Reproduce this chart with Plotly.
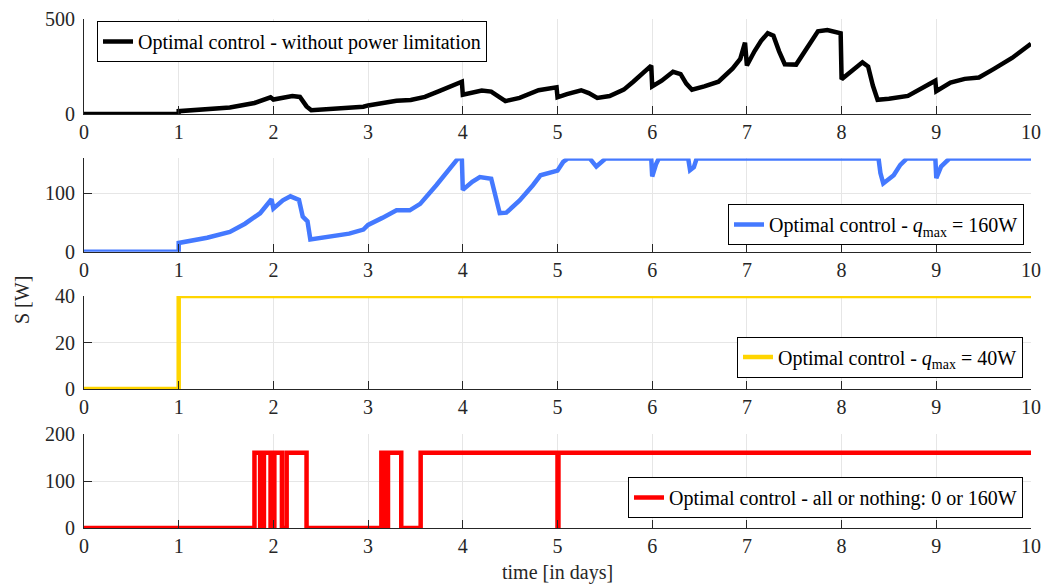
import plotly.graph_objects as go

# ---- data ----
t_black = [0, 1.0, 1.0, 1.3, 1.54, 1.8, 1.97, 2.0, 2.1, 2.2, 2.28, 2.35, 2.4, 2.7, 2.95, 3.0,
           3.15, 3.3, 3.45, 3.6, 3.75, 3.9, 3.99, 4.0, 4.1, 4.2, 4.3, 4.38, 4.45, 4.6, 4.8, 4.99,
           5.0, 5.1, 5.25, 5.33, 5.42, 5.55, 5.7, 5.8, 5.9, 5.99, 6.0, 6.1, 6.22, 6.3, 6.36, 6.42,
           6.55, 6.7, 6.85, 6.93, 6.98, 7.0, 7.08, 7.15, 7.22, 7.28, 7.34, 7.4, 7.52, 7.6, 7.68,
           7.75, 7.85, 7.95, 7.99, 8.0, 8.12, 8.22, 8.28, 8.33, 8.38, 8.5, 8.7, 8.9, 8.99, 9.0,
           9.15, 9.3, 9.45, 9.6, 9.8, 10.0]
s_black = [0, 0, 15, 25, 34, 58, 88, 76, 88, 95, 90, 40, 20, 28, 38, 45,
           58, 70, 74, 90, 120, 150, 170, 102, 115, 124, 118, 90, 68, 85, 125, 140,
           88, 105, 125, 110, 85, 95, 128, 170, 215, 255, 145, 175, 222, 210, 160, 128,
           145, 170, 240, 290, 375, 255, 330, 385, 425, 412, 330, 262, 260, 320, 390,
           435, 442, 432, 425, 183, 230, 272, 250, 150, 75, 80, 95, 150, 175, 120,
           165, 185, 192, 235, 295, 370]

t_blue = [0, 1.0, 1.0, 1.3, 1.54, 1.7, 1.86, 1.98, 2.0, 2.1, 2.18, 2.27, 2.31, 2.36, 2.39, 2.6,
          2.8, 2.95, 3.0, 3.15, 3.3, 3.44, 3.55, 3.72, 3.85, 3.95, 3.99, 4.0, 4.1, 4.18, 4.3,
          4.35, 4.39, 4.46, 4.6, 4.74, 4.82, 5.0, 5.06, 5.11, 5.34, 5.41, 5.51, 5.99, 6.0, 6.04,
          6.07, 6.38, 6.40, 6.44, 6.47, 8.39, 8.41, 8.44, 8.55, 8.62, 8.69, 8.99, 9.0, 9.05,
          9.14, 10.0]
s_blue = [0, 0, 15, 24, 34, 48, 66, 90, 74, 88, 95, 89, 60, 52, 21, 26,
          31, 38, 46, 58, 71, 71, 82, 114, 140, 160, 160, 106, 120, 128, 125,
          90, 66, 67, 88, 114, 131, 139, 154, 160, 160, 146, 160, 160, 129, 150,
          160, 160, 140, 145, 160, 160, 135, 117, 131, 149, 160, 160, 126, 146,
          160, 160]

t_yellow = [0, 1.0, 1.0, 10.0]
s_yellow = [0, 0, 40, 40]

t_red = [0, 1.80, 1.80, 1.86, 1.86, 1.90, 1.90, 1.97, 1.97, 2.01, 2.01, 2.09, 2.09, 2.14, 2.14,
         2.35, 2.35, 3.14, 3.14, 3.17, 3.17, 3.21, 3.21, 3.35, 3.35, 3.555, 3.555, 5.0, 5.0,
         5.01, 5.01, 10.0]
s_red = [0, 0, 160, 160, 0, 0, 160, 160, 0, 0, 160, 160, 0, 0, 160,
         160, 0, 0, 160, 160, 0, 0, 160, 160, 0, 0, 160, 160, 0,
         0, 160, 160]

x_ticks = list(range(0, 11))
y_ticks = [[0, 500], [0, 100], [0, 20, 40], [0, 100, 200]]
y_ranges = [[0, 500], [0, 160], [0, 40], [0, 200]]

names = ["Optimal control - without power limitation",
         "Optimal control - <i>q</i><sub>max</sub> = 160W",
         "Optimal control - <i>q</i><sub>max</sub> = 40W",
         "Optimal control - all or nothing: 0 or 160W"]
colors = ["#000000", "#4479FF", "#FFD500", "#FF0000"]
series = [(t_black, s_black), (t_blue, s_blue), (t_yellow, s_yellow), (t_red, s_red)]

# ---- layout geometry ----
W, H = 1047, 585
L, R, T, B = 84, 16, 19, 57
plot_h = H - T - B
def fy(px):
    return (H - B - px) / plot_h
def fx(px):
    return (px - L) / (W - L - R)

domains = [[fy(114), 1.0], [fy(251.7), fy(158.4)], [fy(389), fy(296)], [0.0, fy(434)]]

FONT = "Liberation Serif"
TXT = "#262626"

fig = go.Figure()
legend_ids = ["legend", "legend2", "legend3", "legend4"]
for i, ((tx, sy), nm, col) in enumerate(zip(series, names, colors)):
    k = "" if i == 0 else str(i + 1)
    fig.add_trace(go.Scatter(x=tx, y=sy, mode="lines", name=nm,
                             line=dict(color=col, width=4.5),
                             xaxis="x" + k, yaxis="y" + k,
                             legend=legend_ids[i], showlegend=True))

axis_common = dict(showline=True, linecolor=TXT, linewidth=1, ticks="inside", ticklen=8,
                   tickcolor=TXT, showgrid=True, gridcolor="#E6E6E6", gridwidth=1,
                   zeroline=False, tickfont=dict(family=FONT, size=20, color=TXT), mirror=False,
                   automargin=False)

lay = dict(width=W, height=H, margin=dict(l=L, r=R, t=T, b=B, pad=0),
           paper_bgcolor="white", plot_bgcolor="white",
           font=dict(family=FONT, size=20, color="#000000"))
for i in range(4):
    k = "" if i == 0 else str(i + 1)
    lay["xaxis" + k] = dict(axis_common, domain=[0, 1], range=[0, 10], tickvals=x_ticks,
                            anchor="y" + k)
    lay["yaxis" + k] = dict(axis_common, domain=domains[i], range=y_ranges[i],
                            tickvals=y_ticks[i], anchor="x" + k, ticklabelstandoff=4)

leg_common = dict(bgcolor="white", bordercolor="#000000", borderwidth=1,
                  font=dict(family=FONT, size=20, color="#000000"), itemwidth=30,
                  tracegroupgap=0)
lay["legend"] = dict(leg_common, x=fx(97), y=fy(21), xanchor="left", yanchor="top")
lay["legend2"] = dict(leg_common, x=fx(1024), y=fy(245), xanchor="right", yanchor="bottom")
lay["legend3"] = dict(leg_common, x=fx(1023), y=fy(377.5), xanchor="right", yanchor="bottom")
lay["legend4"] = dict(leg_common, x=fx(1023), y=fy(518), xanchor="right", yanchor="bottom")

lay["annotations"] = [
    dict(text="S [W]", xref="paper", yref="paper", x=fx(22), y=fy(300), showarrow=False,
         textangle=-90, font=dict(family=FONT, size=20, color=TXT), xanchor="center",
         yanchor="middle"),
    dict(text="time [in days]", xref="paper", yref="paper", x=fx(557), y=fy(572),
         showarrow=False, font=dict(family=FONT, size=20, color=TXT), xanchor="center",
         yanchor="middle"),
]
fig.update_layout(**lay)
fig.write_html("out.html", config={"displayModeBar": False},
               post_script="document.body.style.margin='0px';document.body.style.overflow='hidden';")
